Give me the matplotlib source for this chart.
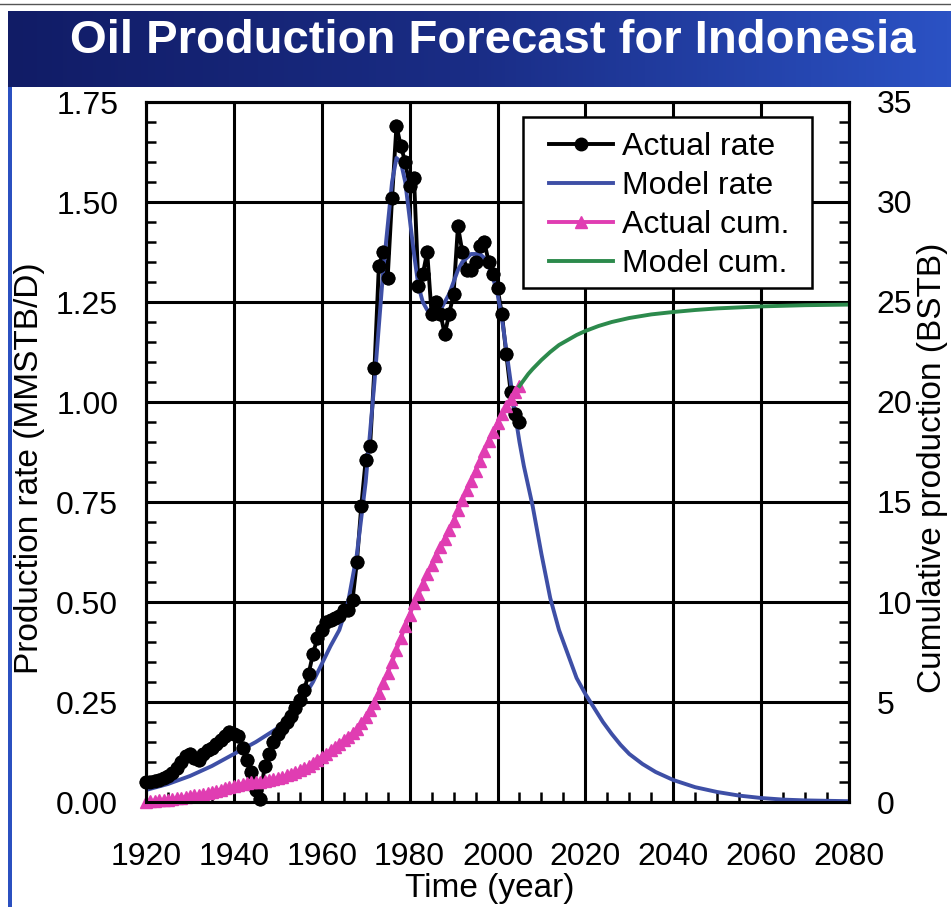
import numpy as np
import matplotlib
matplotlib.use("Agg")
import matplotlib.pyplot as plt
from matplotlib.ticker import MultipleLocator, FormatStrFormatter
from matplotlib.patches import Rectangle
from matplotlib.colors import LinearSegmentedColormap

plt.rcParams['font.family'] = ['Liberation Sans', 'DejaVu Sans']

# annual actual production rate, MMSTB/D
years_actual = list(range(1920, 2006))
rate_actual = [
    0.050, 0.050, 0.052, 0.055, 0.060, 0.065, 0.072, 0.085, 0.100, 0.115,
    0.120, 0.110, 0.105, 0.120, 0.130, 0.135, 0.145, 0.155, 0.165, 0.175,
    0.170, 0.165, 0.135, 0.105, 0.075, 0.030, 0.008, 0.090, 0.120, 0.150,
    0.170, 0.185, 0.200, 0.215, 0.235, 0.255, 0.280, 0.320, 0.370, 0.410,
    0.430, 0.450, 0.455, 0.460, 0.465, 0.480, 0.480, 0.505, 0.600, 0.740,
    0.855, 0.890, 1.085, 1.340, 1.375, 1.310, 1.510, 1.690, 1.640, 1.600,
    1.540, 1.560, 1.290, 1.320, 1.375, 1.220, 1.250, 1.220, 1.170, 1.220,
    1.270, 1.440, 1.375, 1.330, 1.330, 1.350, 1.390, 1.400, 1.350, 1.320,
    1.285, 1.220, 1.120, 1.025, 0.970, 0.950,
]

# actual cumulative production, BSTB
cum_actual = [
    0.02, 0.04, 0.06, 0.08, 0.10, 0.12, 0.15, 0.18, 0.21, 0.25,
    0.29, 0.33, 0.37, 0.41, 0.46, 0.51, 0.56, 0.62, 0.68, 0.74,
    0.80, 0.86, 0.91, 0.95, 0.98, 0.99, 1.00, 1.03, 1.08, 1.13,
    1.19, 1.26, 1.33, 1.41, 1.50, 1.59, 1.69, 1.81, 1.94, 2.09,
    2.25, 2.41, 2.58, 2.75, 2.92, 3.09, 3.27, 3.45, 3.67, 3.94,
    4.25, 4.58, 4.97, 5.46, 5.96, 6.44, 6.99, 7.61, 8.21, 8.79,
    9.36, 9.93, 10.40, 10.88, 11.38, 11.83, 12.28, 12.73, 13.15, 13.60,
    14.06, 14.59, 15.09, 15.58, 16.06, 16.55, 17.06, 17.57, 18.05, 18.50,
    18.95, 19.38, 19.78, 20.15, 20.50, 20.80,
]

# model (fitted) rate, MMSTB/D
years_model = [1920, 1925, 1930, 1935, 1940, 1945, 1950, 1955,
               1958, 1960, 1962, 1964, 1966, 1968, 1970, 1972, 1974, 1976,
               1977, 1978, 1979, 1980, 1981, 1982, 1983, 1984, 1985, 1986,
               1987, 1988, 1989, 1990, 1991, 1992, 1993, 1994, 1995, 1996,
               1997, 1998, 1999, 2000, 2001, 2002, 2003, 2004, 2005,
               2006, 2007, 2008, 2010, 2012, 2014, 2016, 2018, 2020, 2022, 2024,
               2026, 2028, 2030, 2033, 2036, 2040, 2045, 2050, 2055, 2060,
               2065, 2070, 2075, 2080]
rate_model = [0.030, 0.045, 0.065, 0.090, 0.120, 0.150, 0.185, 0.245,
              0.300, 0.345, 0.390, 0.430, 0.500, 0.620, 0.800, 1.050, 1.330, 1.550,
              1.610, 1.600, 1.550, 1.460, 1.370, 1.290, 1.250, 1.230, 1.220, 1.220,
              1.230, 1.250, 1.270, 1.300, 1.330, 1.350, 1.360, 1.370, 1.370, 1.370,
              1.360, 1.340, 1.310, 1.270, 1.210, 1.130, 1.050, 0.970, 0.900,
              0.840, 0.790, 0.740, 0.620, 0.510, 0.430, 0.370, 0.310, 0.270, 0.235, 0.200,
              0.170, 0.143, 0.120, 0.095, 0.075, 0.055, 0.037, 0.025, 0.016, 0.010,
              0.006, 0.004, 0.003, 0.002]

# model cumulative forecast, BSTB
years_cum_model = [2005, 2006, 2007, 2008, 2010, 2012, 2014, 2016, 2018, 2020,
                   2023, 2026, 2030, 2035, 2040, 2045, 2050, 2060, 2070, 2080]
cum_model = [20.80, 21.10, 21.40, 21.65, 22.10, 22.50, 22.85, 23.10, 23.35, 23.55,
             23.80, 24.00, 24.20, 24.38, 24.50, 24.60, 24.68, 24.78, 24.84, 24.87]

W, H = 951, 907
fig = plt.figure(figsize=(W / 100, H / 100), dpi=100)
fig.patch.set_facecolor('white')

# title banner
bar = fig.add_axes([8 / W, 1 - 87 / H, 943 / W, 76 / H])
grad = np.linspace(0, 1, 256).reshape(1, -1)
cmap = LinearSegmentedColormap.from_list('bar', ['#111c66', '#1a2d86', '#2b52c4'])
bar.imshow(grad, aspect='auto', cmap=cmap, extent=[0, 1, 0, 1])
bar.set_axis_off()
fig.text(493 / W, 1 - 41 / H, 'Oil Production Forecast for Indonesia',
         ha='center', va='center', color='white', fontsize=34, fontweight='bold')
fig.add_artist(Rectangle((8 / W, 0), 4 / W, 1 - 87 / H, transform=fig.transFigure,
                         color='#2b50c0', lw=0))
fig.add_artist(plt.Line2D([0, 1], [1 - 4 / H, 1 - 4 / H], transform=fig.transFigure,
                          color='#555555', lw=1))

ax = fig.add_axes([146 / W, 105 / H, 703 / W, 700 / H])
ax2 = ax.twinx()

ax.plot(years_actual, rate_actual, color='black', lw=2.8, marker='o', ms=9,
        label='Actual rate', zorder=2, clip_on=False)
ax.plot(years_model, rate_model, color='#3e4fa6', lw=2.8, label='Model rate', zorder=3)
ax.plot(years_actual, rate_actual, ls='none', color='black', marker='o', ms=9,
        zorder=4, clip_on=False)

ax2.plot(years_actual, cum_actual, color='#e03db2', lw=2.8, marker='^', ms=9,
         label='Actual cum.', clip_on=False)
ax2.plot(years_cum_model, cum_model, color='#2c8a4c', lw=2.8, label='Model cum.')

ax.set_xlim(1920, 2080)
ax.set_ylim(0, 1.75)
ax2.set_ylim(0, 35)

ax.set_xticks(range(1920, 2081, 20))
ax.set_yticks(np.arange(0, 1.76, 0.25))
ax.yaxis.set_major_formatter(FormatStrFormatter('%.2f'))
ax2.set_yticks(range(0, 36, 5))
ax.xaxis.set_minor_locator(MultipleLocator(5))
ax.yaxis.set_minor_locator(MultipleLocator(0.05))
ax2.yaxis.set_minor_locator(MultipleLocator(1))

ax.grid(True, which='major', color='black', lw=2.2)
ax.tick_params(which='both', direction='in', labelsize=23, width=1.8)
ax.tick_params(which='major', length=0)
ax.tick_params(which='minor', length=7)
ax.tick_params(axis='x', pad=29)
ax.tick_params(axis='y', pad=20)
ax2.tick_params(which='both', direction='in', labelsize=23, width=1.8)
ax2.tick_params(which='major', length=0, pad=20)
ax2.tick_params(which='minor', length=7)

for a in (ax, ax2):
    for s in a.spines.values():
        s.set_linewidth(2.2)

fig.text(30 / W, 1 - 468 / H, 'Production rate (MMSTB/D)', rotation=90,
         ha='center', va='center', fontsize=24)
fig.text(932 / W, 1 - 468 / H, 'Cumulative production (BSTB)', rotation=90,
         ha='center', va='center', fontsize=24)
fig.text(490 / W, 1 - 889 / H, 'Time (year)', ha='center', va='center', fontsize=24)

# legend: white box with black border, entries placed inside it
ax2.add_patch(Rectangle((0.536, 0.734), 0.411, 0.244, transform=ax2.transAxes,
                        facecolor='white', edgecolor='black', lw=1.8, zorder=4.5))
h1, l1 = ax.get_legend_handles_labels()
h2, l2 = ax2.get_legend_handles_labels()
leg = ax2.legend(h1 + h2, l1 + l2, loc='upper left', bbox_to_anchor=(0.573, 0.957),
                 borderaxespad=0, borderpad=0, fontsize=23, frameon=False,
                 labelspacing=0.28, handlelength=2.0, handletextpad=0.3,
                 markerscale=1.0)
leg.set_zorder(5)

fig.savefig('out.png', dpi=100)
